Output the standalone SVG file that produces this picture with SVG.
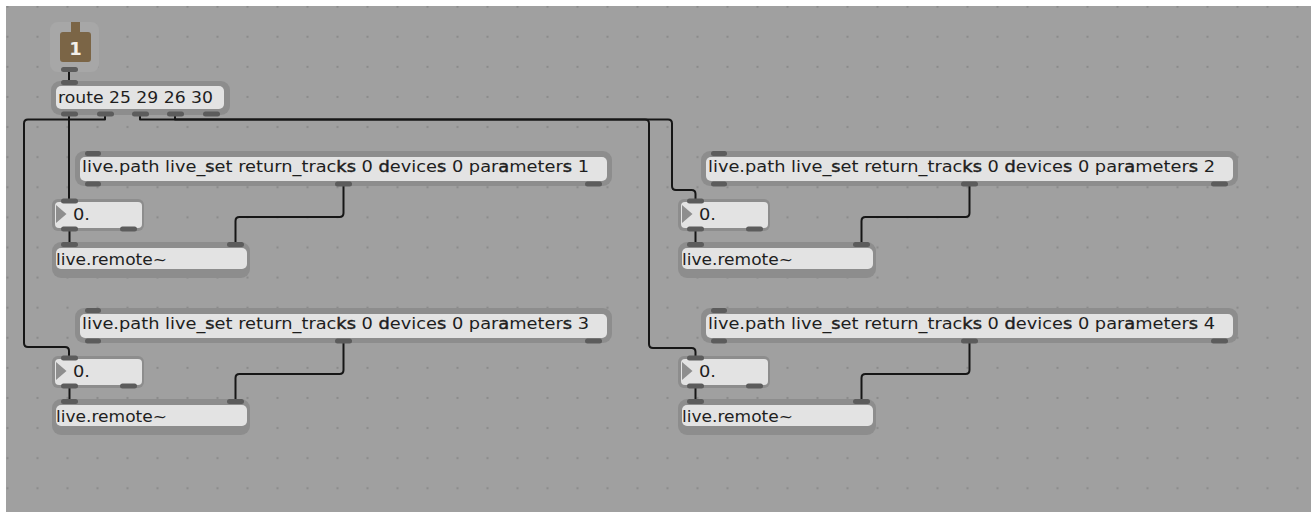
<svg xmlns="http://www.w3.org/2000/svg" width="1311" height="512" viewBox="0 0 1311 512">
<defs>
<pattern id="dots" x="7.5" y="6.7" width="30" height="30.1" patternUnits="userSpaceOnUse">
<circle cx="0" cy="0" r="1.1" fill="#898989"/><circle cx="30" cy="0" r="1.1" fill="#898989"/><circle cx="0" cy="30.1" r="1.1" fill="#898989"/><circle cx="30" cy="30.1" r="1.1" fill="#898989"/>
</pattern>
<style>
.frame{fill:#8d8d8d}
.body{fill:#e3e3e3}
.port{fill:#5c5c5c}
.t{font-family:"DejaVu Sans","Liberation Sans",sans-serif;font-size:16px;fill:#1e1e1e}
.b{stroke:#1e1e1e;stroke-width:0.45}
.wire{fill:none;stroke:#161616;stroke-width:2;stroke-linejoin:round;stroke-linecap:butt}
.tri{fill:#8e8e8e}
</style>
</defs>
<rect x="0" y="0" width="1311" height="512" fill="#ffffff"/>
<rect x="6" y="6" width="1305" height="506" fill="#a0a0a0"/>
<rect x="6" y="6" width="1305" height="506" fill="url(#dots)"/>

<g id="connectors">
<path class="wire" d="M69,72 V81"/>
<path class="wire" d="M69,116 V199"/>
<path class="wire" d="M105,116 V119.5 H28 Q24,119.5 24,123.5 V343 Q24,347 28,347 H65 Q69,347 69,351 V356"/>
<path class="wire" d="M140,116 V119.5 H668 Q672,119.5 672,123.5 V186 Q672,190 676,190 H691.5 Q695.5,190 695.5,194 V199"/>
<path class="wire" d="M175,116 V119.5 H645 Q649,119.5 649,123.5 V344 Q649,348 653,348 H691.5 Q695.5,348 695.5,352 V356"/>
<path class="wire" d="M69.5,231 V242"/>
<path class="wire" d="M343.5,186 V213 Q343.5,217 339.5,217 H239.5 Q235.5,217 235.5,221 V242"/>
<path class="wire" d="M695.5,231 V242"/>
<path class="wire" d="M969.5,186 V213 Q969.5,217 965.5,217 H865.5 Q861.5,217 861.5,221 V242"/>
<path class="wire" d="M69.5,388 V399"/>
<path class="wire" d="M343.5,343 V370 Q343.5,374 339.5,374 H239.5 Q235.5,374 235.5,378 V399"/>
<path class="wire" d="M695.5,388 V399"/>
<path class="wire" d="M969.5,343 V370 Q969.5,374 965.5,374 H865.5 Q861.5,374 861.5,378 V399"/>
</g>

<g id="inlet1">
<rect x="50" y="22" width="49" height="50" rx="8" fill="#a7a7a7"/>
<path d="M71,22 H80 V32 H88 Q91,32 91,35 V59 Q91,62 88,62 H63 Q60,62 60,59 V35 Q60,32 63,32 H71 Z" fill="#7b6546"/>
<text x="75.5" y="55" text-anchor="middle" font-family="DejaVu Sans, sans-serif" font-size="18" font-weight="bold" fill="#f4f0ea">1</text>
<rect class="port" x="61" y="67" width="17" height="5" rx="2.5"/>
</g>

<g id="route">
<rect class="frame" x="51" y="81" width="179" height="34" rx="9"/>
<rect class="body" x="56" y="86" width="168" height="23" rx="5"/>
<text class="t" x="58" y="103" textLength="155" lengthAdjust="spacingAndGlyphs">route 25 29 26 30</text>
<rect class="port" x="61" y="80" width="17" height="5" rx="2.5"/>
<rect class="port" x="61" y="111.5" width="17" height="5" rx="2.5"/>
<rect class="port" x="97" y="111.5" width="17" height="5" rx="2.5"/>
<rect class="port" x="132" y="111.5" width="17" height="5" rx="2.5"/>
<rect class="port" x="167" y="111.5" width="17" height="5" rx="2.5"/>
<rect class="port" x="203" y="111.5" width="17" height="5" rx="2.5"/>
</g>

<g id="livepath1">
<rect class="frame" x="75" y="151" width="537" height="35" rx="9"/>
<rect class="body" x="80" y="157" width="527" height="24" rx="5"/>
<text class="t" x="82" y="172" textLength="507" lengthAdjust="spacingAndGlyphs">live.path live_<tspan class="b">s</tspan>et return_trac<tspan class="b">ks</tspan> 0 <tspan class="b">d</tspan>evice<tspan class="b">s</tspan> 0 par<tspan class="b">a</tspan>meter<tspan class="b">s</tspan> 1</text>
<rect class="port" x="85" y="151" width="16" height="5" rx="2.5"/>
<rect class="port" x="85" y="181.5" width="16" height="5" rx="2.5"/>
<rect class="port" x="335" y="181.5" width="17" height="5" rx="2.5"/>
<rect class="port" x="585" y="181.5" width="17" height="5" rx="2.5"/>
</g>

<g id="livepath2" transform="translate(626,0)">
<rect class="frame" x="75" y="151" width="537" height="35" rx="9"/>
<rect class="body" x="80" y="157" width="527" height="24" rx="5"/>
<text class="t" x="82" y="172" textLength="507" lengthAdjust="spacingAndGlyphs">live.path live_<tspan class="b">s</tspan>et return_trac<tspan class="b">ks</tspan> 0 <tspan class="b">d</tspan>evice<tspan class="b">s</tspan> 0 par<tspan class="b">a</tspan>meter<tspan class="b">s</tspan> 2</text>
<rect class="port" x="85" y="151" width="16" height="5" rx="2.5"/>
<rect class="port" x="85" y="181.5" width="16" height="5" rx="2.5"/>
<rect class="port" x="335" y="181.5" width="17" height="5" rx="2.5"/>
<rect class="port" x="585" y="181.5" width="17" height="5" rx="2.5"/>
</g>

<g id="livepath3" transform="translate(0,157)">
<rect class="frame" x="75" y="151" width="537" height="35" rx="9"/>
<rect class="body" x="80" y="157" width="527" height="24" rx="5"/>
<text class="t" x="82" y="172" textLength="507" lengthAdjust="spacingAndGlyphs">live.path live_<tspan class="b">s</tspan>et return_trac<tspan class="b">ks</tspan> 0 <tspan class="b">d</tspan>evice<tspan class="b">s</tspan> 0 par<tspan class="b">a</tspan>meter<tspan class="b">s</tspan> 3</text>
<rect class="port" x="85" y="151" width="16" height="5" rx="2.5"/>
<rect class="port" x="85" y="181.5" width="16" height="5" rx="2.5"/>
<rect class="port" x="335" y="181.5" width="17" height="5" rx="2.5"/>
<rect class="port" x="585" y="181.5" width="17" height="5" rx="2.5"/>
</g>

<g id="livepath4" transform="translate(626,157)">
<rect class="frame" x="75" y="151" width="537" height="35" rx="9"/>
<rect class="body" x="80" y="157" width="527" height="24" rx="5"/>
<text class="t" x="82" y="172" textLength="507" lengthAdjust="spacingAndGlyphs">live.path live_<tspan class="b">s</tspan>et return_trac<tspan class="b">ks</tspan> 0 <tspan class="b">d</tspan>evice<tspan class="b">s</tspan> 0 par<tspan class="b">a</tspan>meter<tspan class="b">s</tspan> 4</text>
<rect class="port" x="85" y="151" width="16" height="5" rx="2.5"/>
<rect class="port" x="85" y="181.5" width="16" height="5" rx="2.5"/>
<rect class="port" x="335" y="181.5" width="17" height="5" rx="2.5"/>
<rect class="port" x="585" y="181.5" width="17" height="5" rx="2.5"/>
</g>

<g id="number1">
<rect class="frame" x="52" y="199" width="92" height="32" rx="6"/>
<rect class="body" x="55" y="202" width="87" height="26" rx="4"/>
<polygon class="tri" points="56,205 66.5,214 56,223"/>
<text class="t" x="73" y="219.5" textLength="17" lengthAdjust="spacingAndGlyphs">0.</text>
<rect class="port" x="61" y="198.5" width="17" height="5" rx="2.5"/>
<rect class="port" x="61" y="226.5" width="17" height="5" rx="2.5"/>
<rect class="port" x="120" y="226.5" width="17" height="5" rx="2.5"/>
</g>

<g id="number2" transform="translate(626,0)">
<rect class="frame" x="52" y="199" width="92" height="32" rx="6"/>
<rect class="body" x="55" y="202" width="87" height="26" rx="4"/>
<polygon class="tri" points="56,205 66.5,214 56,223"/>
<text class="t" x="73" y="219.5" textLength="17" lengthAdjust="spacingAndGlyphs">0.</text>
<rect class="port" x="61" y="198.5" width="17" height="5" rx="2.5"/>
<rect class="port" x="61" y="226.5" width="17" height="5" rx="2.5"/>
<rect class="port" x="120" y="226.5" width="17" height="5" rx="2.5"/>
</g>

<g id="number3" transform="translate(0,157)">
<rect class="frame" x="52" y="199" width="92" height="32" rx="6"/>
<rect class="body" x="55" y="202" width="87" height="26" rx="4"/>
<polygon class="tri" points="56,205 66.5,214 56,223"/>
<text class="t" x="73" y="219.5" textLength="17" lengthAdjust="spacingAndGlyphs">0.</text>
<rect class="port" x="61" y="198.5" width="17" height="5" rx="2.5"/>
<rect class="port" x="61" y="226.5" width="17" height="5" rx="2.5"/>
<rect class="port" x="120" y="226.5" width="17" height="5" rx="2.5"/>
</g>

<g id="number4" transform="translate(626,157)">
<rect class="frame" x="52" y="199" width="92" height="32" rx="6"/>
<rect class="body" x="55" y="202" width="87" height="26" rx="4"/>
<polygon class="tri" points="56,205 66.5,214 56,223"/>
<text class="t" x="73" y="219.5" textLength="17" lengthAdjust="spacingAndGlyphs">0.</text>
<rect class="port" x="61" y="198.5" width="17" height="5" rx="2.5"/>
<rect class="port" x="61" y="226.5" width="17" height="5" rx="2.5"/>
<rect class="port" x="120" y="226.5" width="17" height="5" rx="2.5"/>
</g>

<g id="remote1">
<rect class="frame" x="52" y="242" width="198" height="36" rx="9"/>
<rect class="body" x="56" y="248" width="191" height="21" rx="5"/>
<text class="t" x="56" y="265" textLength="111" lengthAdjust="spacingAndGlyphs">live.remote~</text>
<rect class="port" x="61" y="242" width="17" height="5" rx="2.5"/>
<rect class="port" x="227" y="242" width="17" height="5" rx="2.5"/>
</g>

<g id="remote2" transform="translate(626,0)">
<rect class="frame" x="52" y="242" width="198" height="36" rx="9"/>
<rect class="body" x="56" y="248" width="191" height="21" rx="5"/>
<text class="t" x="56" y="265" textLength="111" lengthAdjust="spacingAndGlyphs">live.remote~</text>
<rect class="port" x="61" y="242" width="17" height="5" rx="2.5"/>
<rect class="port" x="227" y="242" width="17" height="5" rx="2.5"/>
</g>

<g id="remote3" transform="translate(0,157)">
<rect class="frame" x="52" y="242" width="198" height="36" rx="9"/>
<rect class="body" x="56" y="248" width="191" height="21" rx="5"/>
<text class="t" x="56" y="265" textLength="111" lengthAdjust="spacingAndGlyphs">live.remote~</text>
<rect class="port" x="61" y="242" width="17" height="5" rx="2.5"/>
<rect class="port" x="227" y="242" width="17" height="5" rx="2.5"/>
</g>

<g id="remote4" transform="translate(626,157)">
<rect class="frame" x="52" y="242" width="198" height="36" rx="9"/>
<rect class="body" x="56" y="248" width="191" height="21" rx="5"/>
<text class="t" x="56" y="265" textLength="111" lengthAdjust="spacingAndGlyphs">live.remote~</text>
<rect class="port" x="61" y="242" width="17" height="5" rx="2.5"/>
<rect class="port" x="227" y="242" width="17" height="5" rx="2.5"/>
</g>
</svg>
